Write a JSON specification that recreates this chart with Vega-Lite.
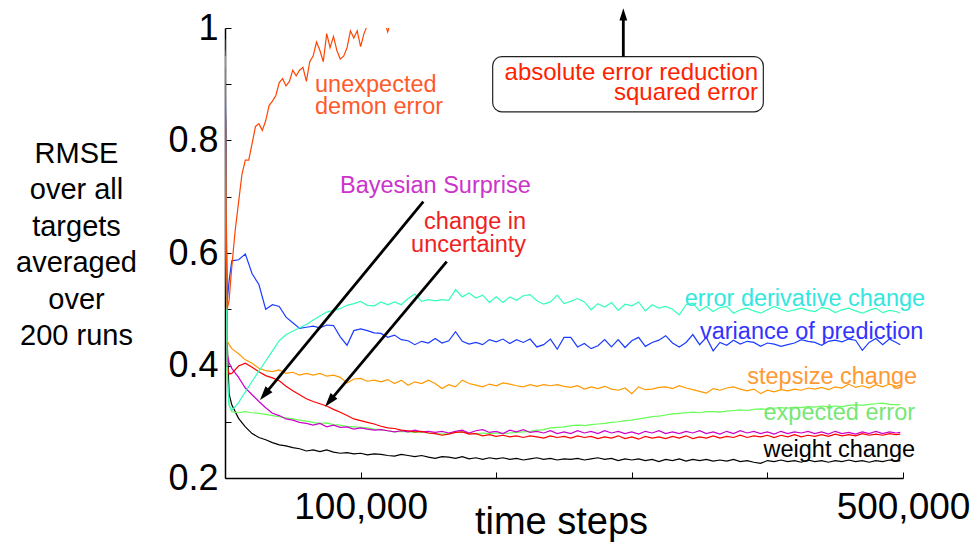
{
"$schema":"https://vega.github.io/schema/vega-lite/v6.json",
"width":678,"height":450,
"autosize":{"type":"none"},
"padding":{"left":225,"top":28,"right":74,"bottom":66},
"background":"white",
"config":{"view":{"stroke":null},"font":"Liberation Sans"},
"datasets":{
"curves":[
{"t":0,"weight":0.96,"expected":0.95,"bayes":0.96,"uncert":0.96,"stepsize":0.96,"variance":0.98,"deriv":0.95,"demon":0.93},
{"t":1500,"weight":0.45,"expected":0.38,"bayes":0.42,"uncert":0.4,"stepsize":0.445,"variance":0.511,"deriv":0.4,"demon":0.5},
{"t":3000,"weight":0.35,"expected":0.33,"bayes":0.405,"uncert":0.385,"stepsize":0.437,"variance":0.55,"deriv":0.33,"demon":0.515},
{"t":5000,"weight":0.33,"expected":0.318,"bayes":0.395,"uncert":0.386,"stepsize":0.43,"variance":0.586,"deriv":0.32,"demon":0.575},
{"t":7500,"demon":0.64},
{"t":10000,"weight":0.306,"expected":0.316,"bayes":0.379,"uncert":0.399,"stepsize":0.421,"variance":0.588,"deriv":0.334,"demon":0.69},
{"t":12500,"demon":0.74},
{"t":15000,"weight":0.291,"expected":0.318,"bayes":0.36,"uncert":0.404,"stepsize":0.41,"variance":0.598,"deriv":0.353,"demon":0.765},
{"t":17500,"demon":0.765},
{"t":20000,"weight":0.279,"expected":0.316,"bayes":0.348,"uncert":0.397,"stepsize":0.404,"variance":0.563,"deriv":0.372,"demon":0.795},
{"t":22500,"demon":0.825},
{"t":25000,"weight":0.272,"expected":0.315,"bayes":0.336,"uncert":0.389,"stepsize":0.395,"variance":0.544,"deriv":0.39,"demon":0.83},
{"t":27500,"demon":0.818},
{"t":30000,"weight":0.268,"expected":0.313,"bayes":0.325,"uncert":0.382,"stepsize":0.391,"variance":0.5,"deriv":0.408,"demon":0.835},
{"t":32500,"demon":0.862},
{"t":35000,"weight":0.263,"expected":0.311,"bayes":0.315,"uncert":0.378,"stepsize":0.389,"variance":0.508,"deriv":0.426,"demon":0.87},
{"t":37500,"demon":0.88},
{"t":40000,"weight":0.259,"expected":0.309,"bayes":0.311,"uncert":0.373,"stepsize":0.392,"variance":0.505,"deriv":0.444,"demon":0.903},
{"t":42500,"demon":0.91},
{"t":45000,"weight":0.257,"expected":0.307,"bayes":0.305,"uncert":0.363,"stepsize":0.386,"variance":0.486,"deriv":0.455,"demon":0.897},
{"t":47500,"demon":0.905},
{"t":50000,"weight":0.254,"expected":0.305,"bayes":0.303,"uncert":0.355,"stepsize":0.388,"variance":0.476,"deriv":0.461,"demon":0.925},
{"t":52500,"demon":0.915},
{"t":55000,"weight":0.252,"expected":0.303,"bayes":0.299,"uncert":0.348,"stepsize":0.383,"variance":0.466,"deriv":0.467,"demon":0.925},
{"t":57500,"demon":0.93},
{"t":60000,"weight":0.248,"expected":0.301,"bayes":0.297,"uncert":0.341,"stepsize":0.386,"variance":0.468,"deriv":0.473,"demon":0.905},
{"t":62500,"demon":0.94},
{"t":65000,"weight":0.25,"expected":0.299,"bayes":0.294,"uncert":0.336,"stepsize":0.383,"variance":0.47,"deriv":0.481,"demon":0.95},
{"t":67500,"demon":0.975},
{"t":70000,"weight":0.247,"expected":0.297,"bayes":0.297,"uncert":0.332,"stepsize":0.386,"variance":0.467,"deriv":0.488,"demon":0.96},
{"t":72500,"demon":0.94},
{"t":75000,"weight":0.25,"expected":0.298,"bayes":0.291,"uncert":0.328,"stepsize":0.381,"variance":0.472,"deriv":0.495,"demon":0.99},
{"t":77500,"demon":0.965},
{"t":80000,"weight":0.246,"expected":0.295,"bayes":0.294,"uncert":0.322,"stepsize":0.383,"variance":0.471,"deriv":0.498,"demon":0.985},
{"t":82500,"demon":0.96},
{"t":85000,"weight":0.244,"expected":0.294,"bayes":0.29,"uncert":0.317,"stepsize":0.379,"variance":0.451,"deriv":0.501,"demon":0.945},
{"t":87500,"demon":0.95},
{"t":90000,"weight":0.245,"expected":0.292,"bayes":0.291,"uncert":0.311,"stepsize":0.369,"variance":0.436,"deriv":0.507,"demon":0.965},
{"t":92500,"demon":0.995},
{"t":95000,"weight":0.243,"expected":0.291,"bayes":0.287,"uncert":0.305,"stepsize":0.376,"variance":0.462,"deriv":0.51,"demon":0.982},
{"t":97500,"demon":0.995},
{"t":100000,"weight":0.244,"expected":0.29,"bayes":0.289,"uncert":0.302,"stepsize":0.377,"variance":0.465,"deriv":0.514,"demon":0.967},
{"t":102500,"demon":0.99},
{"t":105000,"weight":0.241,"expected":0.289,"bayes":0.287,"uncert":0.299,"stepsize":0.372,"variance":0.462,"deriv":0.507,"demon":1.005},
{"t":107500,"demon":1.02},
{"t":110000,"weight":0.243,"expected":0.287,"bayes":0.285,"uncert":0.296,"stepsize":0.374,"variance":0.458,"deriv":0.506,"demon":1.02},
{"t":112500,"demon":1.04},
{"t":115000,"weight":0.242,"expected":0.286,"bayes":0.286,"uncert":0.292,"stepsize":0.371,"variance":0.457,"deriv":0.513,"demon":1.03},
{"t":117500,"demon":1.012},
{"t":120000,"weight":0.24,"expected":0.284,"bayes":0.284,"uncert":0.289,"stepsize":0.375,"variance":0.45,"deriv":0.508,"demon":0.993},
{"t":122500,"demon":1.015},
{"t":125000,"weight":0.239,"expected":0.282,"bayes":0.282,"uncert":0.288,"stepsize":0.368,"variance":0.454,"deriv":0.513,"demon":1.03},
{"t":130000,"weight":0.242,"expected":0.283,"bayes":0.284,"uncert":0.285,"stepsize":0.374,"variance":0.446,"deriv":0.508},
{"t":135000,"weight":0.24,"expected":0.282,"bayes":0.282,"uncert":0.284,"stepsize":0.365,"variance":0.444,"deriv":0.519},
{"t":140000,"weight":0.238,"expected":0.281,"bayes":0.285,"uncert":0.282,"stepsize":0.371,"variance":0.437,"deriv":0.527},
{"t":145000,"weight":0.24,"expected":0.282,"bayes":0.282,"uncert":0.283,"stepsize":0.368,"variance":0.443,"deriv":0.514},
{"t":150000,"weight":0.237,"expected":0.28,"bayes":0.283,"uncert":0.28,"stepsize":0.374,"variance":0.44,"deriv":0.517},
{"t":155000,"weight":0.235,"expected":0.279,"bayes":0.281,"uncert":0.279,"stepsize":0.368,"variance":0.448,"deriv":0.515},
{"t":160000,"weight":0.238,"expected":0.278,"bayes":0.283,"uncert":0.276,"stepsize":0.359,"variance":0.44,"deriv":0.517},
{"t":165000,"weight":0.237,"expected":0.279,"bayes":0.28,"uncert":0.278,"stepsize":0.366,"variance":0.444,"deriv":0.516},
{"t":170000,"weight":0.235,"expected":0.281,"bayes":0.283,"uncert":0.281,"stepsize":0.362,"variance":0.46,"deriv":0.535},
{"t":175000,"weight":0.238,"expected":0.282,"bayes":0.285,"uncert":0.282,"stepsize":0.374,"variance":0.443,"deriv":0.522},
{"t":180000,"weight":0.234,"expected":0.28,"bayes":0.28,"uncert":0.278,"stepsize":0.368,"variance":0.438,"deriv":0.529},
{"t":185000,"weight":0.236,"expected":0.279,"bayes":0.284,"uncert":0.279,"stepsize":0.365,"variance":0.441,"deriv":0.52},
{"t":190000,"weight":0.233,"expected":0.28,"bayes":0.286,"uncert":0.275,"stepsize":0.362,"variance":0.437,"deriv":0.525},
{"t":195000,"weight":0.236,"expected":0.279,"bayes":0.281,"uncert":0.277,"stepsize":0.367,"variance":0.446,"deriv":0.512},
{"t":200000,"weight":0.234,"expected":0.28,"bayes":0.283,"uncert":0.274,"stepsize":0.364,"variance":0.442,"deriv":0.522},
{"t":205000,"weight":0.236,"expected":0.279,"bayes":0.279,"uncert":0.276,"stepsize":0.369,"variance":0.447,"deriv":0.512},
{"t":210000,"weight":0.233,"expected":0.28,"bayes":0.285,"uncert":0.273,"stepsize":0.367,"variance":0.439,"deriv":0.522},
{"t":215000,"weight":0.235,"expected":0.281,"bayes":0.282,"uncert":0.275,"stepsize":0.364,"variance":0.446,"deriv":0.516},
{"t":220000,"weight":0.232,"expected":0.282,"bayes":0.286,"uncert":0.272,"stepsize":0.362,"variance":0.441,"deriv":0.524},
{"t":225000,"weight":0.234,"expected":0.283,"bayes":0.281,"uncert":0.275,"stepsize":0.366,"variance":0.447,"deriv":0.526},
{"t":230000,"weight":0.236,"expected":0.285,"bayes":0.283,"uncert":0.273,"stepsize":0.363,"variance":0.433,"deriv":0.515},
{"t":235000,"weight":0.233,"expected":0.286,"bayes":0.28,"uncert":0.271,"stepsize":0.366,"variance":0.437,"deriv":0.509},
{"t":240000,"weight":0.235,"expected":0.289,"bayes":0.284,"uncert":0.275,"stepsize":0.364,"variance":0.447,"deriv":0.513},
{"t":245000,"weight":0.232,"expected":0.29,"bayes":0.279,"uncert":0.272,"stepsize":0.366,"variance":0.429,"deriv":0.525},
{"t":250000,"weight":0.234,"expected":0.291,"bayes":0.282,"uncert":0.274,"stepsize":0.363,"variance":0.45,"deriv":0.51},
{"t":255000,"weight":0.233,"expected":0.293,"bayes":0.279,"uncert":0.271,"stepsize":0.361,"variance":0.45,"deriv":0.514},
{"t":260000,"weight":0.235,"expected":0.294,"bayes":0.284,"uncert":0.275,"stepsize":0.364,"variance":0.433,"deriv":0.519},
{"t":265000,"weight":0.232,"expected":0.293,"bayes":0.28,"uncert":0.272,"stepsize":0.358,"variance":0.439,"deriv":0.513},
{"t":270000,"weight":0.234,"expected":0.295,"bayes":0.283,"uncert":0.274,"stepsize":0.362,"variance":0.43,"deriv":0.499},
{"t":275000,"weight":0.236,"expected":0.296,"bayes":0.279,"uncert":0.27,"stepsize":0.359,"variance":0.435,"deriv":0.51},
{"t":280000,"weight":0.233,"expected":0.297,"bayes":0.284,"uncert":0.273,"stepsize":0.363,"variance":0.446,"deriv":0.504},
{"t":285000,"weight":0.235,"expected":0.299,"bayes":0.28,"uncert":0.271,"stepsize":0.358,"variance":0.433,"deriv":0.512},
{"t":290000,"weight":0.231,"expected":0.3,"bayes":0.283,"uncert":0.275,"stepsize":0.356,"variance":0.446,"deriv":0.498},
{"t":295000,"weight":0.234,"expected":0.302,"bayes":0.279,"uncert":0.27,"stepsize":0.36,"variance":0.432,"deriv":0.509},
{"t":300000,"weight":0.232,"expected":0.303,"bayes":0.282,"uncert":0.273,"stepsize":0.35,"variance":0.444,"deriv":0.506},
{"t":305000,"weight":0.234,"expected":0.305,"bayes":0.278,"uncert":0.269,"stepsize":0.362,"variance":0.45,"deriv":0.513},
{"t":310000,"weight":0.231,"expected":0.307,"bayes":0.283,"uncert":0.274,"stepsize":0.357,"variance":0.434,"deriv":0.497},
{"t":315000,"weight":0.233,"expected":0.309,"bayes":0.28,"uncert":0.271,"stepsize":0.358,"variance":0.441,"deriv":0.508},
{"t":320000,"weight":0.229,"expected":0.31,"bayes":0.284,"uncert":0.273,"stepsize":0.361,"variance":0.445,"deriv":0.502},
{"t":325000,"weight":0.233,"expected":0.312,"bayes":0.279,"uncert":0.27,"stepsize":0.362,"variance":0.453,"deriv":0.505},
{"t":330000,"weight":0.231,"expected":0.314,"bayes":0.282,"uncert":0.274,"stepsize":0.359,"variance":0.44,"deriv":0.5},
{"t":335000,"weight":0.234,"expected":0.315,"bayes":0.279,"uncert":0.271,"stepsize":0.364,"variance":0.433,"deriv":0.49},
{"t":340000,"weight":0.23,"expected":0.316,"bayes":0.283,"uncert":0.275,"stepsize":0.36,"variance":0.441,"deriv":0.508},
{"t":345000,"weight":0.233,"expected":0.317,"bayes":0.28,"uncert":0.27,"stepsize":0.357,"variance":0.455,"deriv":0.511},
{"t":350000,"weight":0.231,"expected":0.316,"bayes":0.284,"uncert":0.273,"stepsize":0.354,"variance":0.437,"deriv":0.497},
{"t":355000,"weight":0.233,"expected":0.318,"bayes":0.279,"uncert":0.271,"stepsize":0.351,"variance":0.45,"deriv":0.505},
{"t":360000,"weight":0.23,"expected":0.318,"bayes":0.282,"uncert":0.275,"stepsize":0.359,"variance":0.426,"deriv":0.496},
{"t":365000,"weight":0.232,"expected":0.317,"bayes":0.278,"uncert":0.271,"stepsize":0.356,"variance":0.441,"deriv":0.503},
{"t":370000,"weight":0.23,"expected":0.319,"bayes":0.283,"uncert":0.274,"stepsize":0.36,"variance":0.436,"deriv":0.505},
{"t":375000,"weight":0.233,"expected":0.32,"bayes":0.279,"uncert":0.272,"stepsize":0.362,"variance":0.445,"deriv":0.493},
{"t":380000,"weight":0.229,"expected":0.321,"bayes":0.284,"uncert":0.276,"stepsize":0.358,"variance":0.438,"deriv":0.499},
{"t":385000,"weight":0.231,"expected":0.32,"bayes":0.28,"uncert":0.272,"stepsize":0.355,"variance":0.443,"deriv":0.502},
{"t":390000,"weight":0.228,"expected":0.322,"bayes":0.283,"uncert":0.275,"stepsize":0.358,"variance":0.441,"deriv":0.497},
{"t":395000,"weight":0.226,"expected":0.323,"bayes":0.279,"uncert":0.273,"stepsize":0.35,"variance":0.434,"deriv":0.493},
{"t":400000,"weight":0.231,"expected":0.322,"bayes":0.282,"uncert":0.276,"stepsize":0.356,"variance":0.44,"deriv":0.499},
{"t":405000,"weight":0.229,"expected":0.324,"bayes":0.278,"uncert":0.272,"stepsize":0.353,"variance":0.438,"deriv":0.505},
{"t":410000,"weight":0.232,"expected":0.325,"bayes":0.283,"uncert":0.276,"stepsize":0.357,"variance":0.434,"deriv":0.5},
{"t":415000,"weight":0.229,"expected":0.324,"bayes":0.279,"uncert":0.273,"stepsize":0.355,"variance":0.437,"deriv":0.496},
{"t":420000,"weight":0.231,"expected":0.326,"bayes":0.282,"uncert":0.277,"stepsize":0.358,"variance":0.44,"deriv":0.499},
{"t":425000,"weight":0.228,"expected":0.325,"bayes":0.28,"uncert":0.273,"stepsize":0.356,"variance":0.446,"deriv":0.502},
{"t":430000,"weight":0.232,"expected":0.327,"bayes":0.283,"uncert":0.276,"stepsize":0.36,"variance":0.443,"deriv":0.498},
{"t":435000,"weight":0.229,"expected":0.326,"bayes":0.279,"uncert":0.274,"stepsize":0.358,"variance":0.441,"deriv":0.496},
{"t":440000,"weight":0.231,"expected":0.328,"bayes":0.282,"uncert":0.277,"stepsize":0.361,"variance":0.436,"deriv":0.503},
{"t":445000,"weight":0.228,"expected":0.327,"bayes":0.278,"uncert":0.274,"stepsize":0.357,"variance":0.443,"deriv":0.501},
{"t":450000,"weight":0.231,"expected":0.328,"bayes":0.283,"uncert":0.278,"stepsize":0.362,"variance":0.445,"deriv":0.494},
{"t":455000,"weight":0.229,"expected":0.327,"bayes":0.279,"uncert":0.275,"stepsize":0.36,"variance":0.442,"deriv":0.499},
{"t":460000,"weight":0.232,"expected":0.329,"bayes":0.281,"uncert":0.277,"stepsize":0.367,"variance":0.447,"deriv":0.502},
{"t":465000,"weight":0.229,"expected":0.33,"bayes":0.278,"uncert":0.275,"stepsize":0.361,"variance":0.445,"deriv":0.497},
{"t":470000,"weight":0.231,"expected":0.329,"bayes":0.282,"uncert":0.279,"stepsize":0.364,"variance":0.427,"deriv":0.493},
{"t":475000,"weight":0.228,"expected":0.331,"bayes":0.279,"uncert":0.276,"stepsize":0.36,"variance":0.441,"deriv":0.498},
{"t":480000,"weight":0.231,"expected":0.332,"bayes":0.283,"uncert":0.278,"stepsize":0.366,"variance":0.448,"deriv":0.502},
{"t":485000,"weight":0.229,"expected":0.333,"bayes":0.279,"uncert":0.276,"stepsize":0.362,"variance":0.437,"deriv":0.494},
{"t":490000,"weight":0.232,"expected":0.331,"bayes":0.282,"uncert":0.279,"stepsize":0.367,"variance":0.447,"deriv":0.498},
{"t":495000,"weight":0.23,"expected":0.33,"bayes":0.28,"uncert":0.277,"stepsize":0.363,"variance":0.441,"deriv":0.496},
{"t":498000,"weight":0.231,"expected":0.331,"bayes":0.281,"uncert":0.278,"stepsize":0.365,"variance":0.437,"deriv":0.493}
],
"labels":[
{"series":"demon","label":"unexpected","t":66400,"v":0.887},
{"series":"demon","label":"demon error","t":66400,"v":0.847},
{"series":"bayes","label":"Bayesian Surprise","t":84800,"v":0.707},
{"series":"uncert","label":"change in","t":222000,"v":0.643},
{"series":"uncert","label":"uncertainty","t":222000,"v":0.601},
{"series":"deriv","label":"error derivative change","t":516300,"v":0.506},
{"series":"variance","label":"variance of prediction","t":515000,"v":0.448},
{"series":"stepsize","label":"stepsize change","t":510400,"v":0.368},
{"series":"expected","label":"expected error","t":508900,"v":0.303},
{"series":"weight","label":"weight change","t":508900,"v":0.238},
{"series":"abs","label":"absolute error reduction","t":393100,"v":0.9076},
{"series":"abs","label":"squared error","t":393100,"v":0.872}
],
"box":[{"x1":197400,"x2":397000,"y1":0.949,"y2":0.851}],
"arrows":[
{"arrow":"bayes","x1":146250,"y1":0.6912,"x2":29570,"y2":0.3497},
{"arrow":"uncert","x1":163500,"y1":0.5845,"x2":77500,"y2":0.3376},
{"arrow":"up","x1":293750,"y1":0.949,"x2":293750,"y2":1.0213}
],
"heads":[
{"arrow":"bayes","t":25810,"v":0.3387},
{"arrow":"uncert","t":73750,"v":0.3268},
{"arrow":"up","t":293750,"v":1.035}
]
},
"resolve":{"scale":{"color":"independent"}},
"layer":[
{
"data":{"name":"curves"},
"transform":[{"fold":["weight","expected","bayes","uncert","stepsize","variance","deriv","demon"],"as":["series","rmse"]}],
"mark":{"type":"line","clip":true,"strokeWidth":1.2,"invalid":"filter"},
"encoding":{
"x":{"field":"t","type":"quantitative","scale":{"domain":[0,500000],"nice":false,"zero":false},
"axis":{"values":[100000,200000,300000,400000,500000],"labelExpr":"datum.value==100000?'100,000':datum.value==500000?'500,000':''","grid":false,"domainColor":"black","domainWidth":1.5,"tickColor":"black","tickWidth":1,"tickSize":-6,"labelFont":"Liberation Sans","labelFontSize":37,"labelColor":"black","labelPadding":17,"labelOverlap":false,"labelFlush":false,"labelBound":false,
"title":"time steps","titleFont":"Liberation Sans","titleFontSize":38,"titleFontWeight":"normal","titleColor":"black","titleX":336,"titleY":55,"titleAlign":"center","titleBaseline":"alphabetic"}},
"y":{"field":"rmse","type":"quantitative","scale":{"domain":[0.2,1],"nice":false,"zero":false},
"axis":{"values":[0.2,0.3,0.4,0.5,0.6,0.7,0.8,0.9,1],"labelExpr":"datum.value==0.2?'0.2':datum.value==0.4?'0.4':datum.value==0.6?'0.6':datum.value==0.8?'0.8':datum.value==1?'1':''","grid":false,"domainColor":"black","domainWidth":1.5,"tickColor":"black","tickWidth":1,"tickSize":-6,"labelFont":"Liberation Sans","labelFontSize":36,"labelColor":"black","labelPadding":13,"labelOverlap":false,"labelFlush":false,"labelBound":false,
"title":["RMSE","over all","targets","averaged","over","200 runs"],"titleFont":"Liberation Sans","titleFontSize":29,"titleFontWeight":"normal","titleColor":"black","titleAngle":0,"titleX":-149,"titleY":134,"titleAlign":"center","titleBaseline":"alphabetic","titleLineHeight":36.5}},
"color":{"field":"series","type":"nominal","scale":{"domain":["weight","expected","bayes","uncert","stepsize","variance","deriv","demon"],"range":["#000000","#66ff55","#cc00cc","#ff0000","#ff9900","#1a3cff","#33ffbb","#ff4400"]},"legend":null}
}
},
{
"data":{"name":"box"},
"mark":{"type":"rect","fillOpacity":0,"stroke":"#222222","strokeWidth":1.2,"cornerRadius":9},
"encoding":{
"x":{"field":"x1","type":"quantitative","scale":{"domain":[0,500000],"nice":false,"zero":false}},
"x2":{"field":"x2"},
"y":{"field":"y1","type":"quantitative","scale":{"domain":[0.2,1],"nice":false,"zero":false}},
"y2":{"field":"y2"}
}
},
{
"data":{"name":"labels"},
"transform":[{"filter":"datum.series=='demon'||datum.series=='bayes'"}],
"mark":{"type":"text","align":"left","baseline":"alphabetic","font":"Liberation Sans","fontSize":23.5},
"encoding":{
"x":{"field":"t","type":"quantitative","scale":{"domain":[0,500000],"nice":false,"zero":false}},
"y":{"field":"v","type":"quantitative","scale":{"domain":[0.2,1],"nice":false,"zero":false}},
"text":{"field":"label"},
"color":{"field":"series","type":"nominal","scale":{"domain":["demon","bayes","uncert","deriv","variance","stepsize","expected","weight","abs"],"range":["#ff5a2a","#cc33cc","#ee2222","#33e6e0","#3333ff","#ff9933","#77e677","#000000","#ff2200"]},"legend":null}
}
},
{
"data":{"name":"labels"},
"transform":[{"filter":"datum.series!='demon'&&datum.series!='bayes'&&datum.series!='abs'"}],
"mark":{"type":"text","align":"right","baseline":"alphabetic","font":"Liberation Sans","fontSize":23.5},
"encoding":{
"x":{"field":"t","type":"quantitative","scale":{"domain":[0,500000],"nice":false,"zero":false}},
"y":{"field":"v","type":"quantitative","scale":{"domain":[0.2,1],"nice":false,"zero":false}},
"text":{"field":"label"},
"color":{"field":"series","type":"nominal","scale":{"domain":["demon","bayes","uncert","deriv","variance","stepsize","expected","weight","abs"],"range":["#ff5a2a","#cc33cc","#ee2222","#33e6e0","#3333ff","#ff9933","#77e677","#000000","#ff2200"]},"legend":null}
}
},
{
"data":{"name":"labels"},
"transform":[{"filter":"datum.series=='abs'"}],
"mark":{"type":"text","align":"right","baseline":"alphabetic","font":"Liberation Sans","fontSize":24},
"encoding":{
"x":{"field":"t","type":"quantitative","scale":{"domain":[0,500000],"nice":false,"zero":false}},
"y":{"field":"v","type":"quantitative","scale":{"domain":[0.2,1],"nice":false,"zero":false}},
"text":{"field":"label"},
"color":{"field":"series","type":"nominal","scale":{"domain":["demon","bayes","uncert","deriv","variance","stepsize","expected","weight","abs"],"range":["#ff5a2a","#cc33cc","#ee2222","#33e6e0","#3333ff","#ff9933","#77e677","#000000","#ff2200"]},"legend":null}
}
},
{
"data":{"name":"arrows"},
"mark":{"type":"rule","color":"black","strokeWidth":2.8},
"encoding":{
"x":{"field":"x1","type":"quantitative","scale":{"domain":[0,500000],"nice":false,"zero":false}},
"x2":{"field":"x2"},
"y":{"field":"y1","type":"quantitative","scale":{"domain":[0.2,1],"nice":false,"zero":false}},
"y2":{"field":"y2"}
}
},
{
"data":{"name":"heads"},
"transform":[{"filter":"datum.arrow!='up'"}],
"mark":{"type":"point","shape":"M0,0L-0.45,1.4L0.45,1.4Z","filled":true,"color":"black","opacity":1,"size":400,"angle":220},
"encoding":{
"x":{"field":"t","type":"quantitative","scale":{"domain":[0,500000],"nice":false,"zero":false}},
"y":{"field":"v","type":"quantitative","scale":{"domain":[0.2,1],"nice":false,"zero":false}}
}
},
{
"data":{"name":"heads"},
"transform":[{"filter":"datum.arrow=='up'"}],
"mark":{"type":"point","shape":"M0,0L-0.45,1.4L0.45,1.4Z","filled":true,"color":"black","opacity":1,"size":300,"angle":0},
"encoding":{
"x":{"field":"t","type":"quantitative","scale":{"domain":[0,500000],"nice":false,"zero":false}},
"y":{"field":"v","type":"quantitative","scale":{"domain":[0.2,1],"nice":false,"zero":false}}
}
}
]
}
